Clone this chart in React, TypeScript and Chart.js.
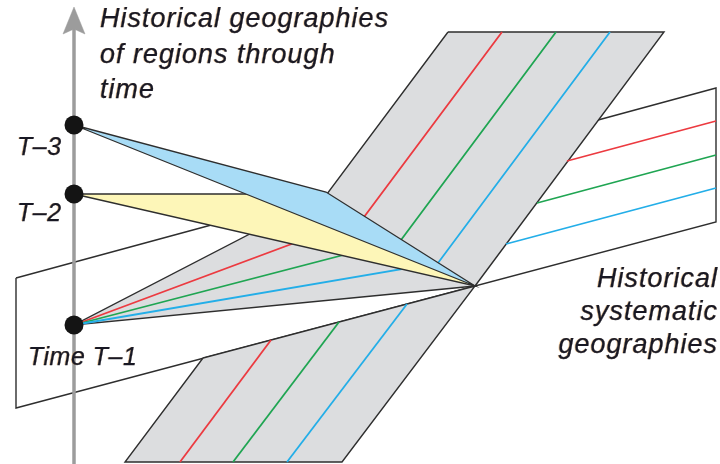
import React, { useEffect, useRef } from 'react';
import { Chart, registerables } from 'chart.js';

Chart.register(...registerables);

type P = [number, number];

// ---- Values (x to the right, y downward) ----
const planeOutline: P[] = [[16, 278], [716, 88], [716, 222], [16, 408]];
const bandUpper: P[] = [[448, 32], [664, 32], [475, 286], [74, 325], [327, 194]];
const bandLower: P[] = [[203, 358], [475, 286], [342, 462], [125, 462]];
const regionT3: P[] = [[74, 125], [326, 192], [475, 286]];
const regionT2: P[] = [[74, 194], [300, 194], [475, 286]];

const redUpper: P[] = [[502, 32], [364, 217], [74, 325]];
const greenUpper: P[] = [[556, 32], [401, 240], [74, 325]];
const blueUpper: P[] = [[610, 32], [438, 263], [74, 325]];
const redLower: P[] = [[180, 462], [271, 340]];
const greenLower: P[] = [[233, 462], [339, 322]];
const blueLower: P[] = [[287, 462], [407, 304]];
const redRight: P[] = [[567, 161], [716, 121]];
const greenRight: P[] = [[537, 203], [716, 155]];
const blueRight: P[] = [[506, 244], [716, 188]];

const timeAxis: P[] = [[74, 464], [74, 28]];
const arrowHead: P[] = [[63, 34], [74, 7], [85, 34], [74, 29]];
const timePoints: P[] = [[74, 125], [74, 194], [74, 325]];

const timeLabels = ['T–3', 'T–2', 'Time T–1'];
const titleLines = ['Historical geographies', 'of regions through', 'time'];
const sideLines = ['Historical', 'systematic', 'geographies'];

// ---- Styles ----
const OUTLINE = '#2e2e2e';
const BAND = '#dcdddf';
const RED = '#ec3a40';
const GREEN = '#1fa552';
const BLUE = '#23aee8';
const AXIS = '#9c9c9c';
const TEXT = '#181824';

const xy = (pts: P[], close = false) => {
  const arr = pts.map(([x, y]) => ({ x, y }));
  if (close) arr.push({ x: pts[0][0], y: pts[0][1] });
  return arr;
};

const polygon = (pts: P[], fill: string, border: string, width: number) => ({
  data: xy(pts, true),
  showLine: true,
  fill: 'shape',
  backgroundColor: fill,
  borderColor: border,
  borderWidth: width,
  borderJoinStyle: 'miter',
  pointRadius: 0,
  tension: 0,
});

const polyline = (pts: P[], color: string, width: number) => ({
  data: xy(pts),
  showLine: true,
  fill: false,
  borderColor: color,
  borderWidth: width,
  borderJoinStyle: 'miter',
  pointRadius: 0,
  tension: 0,
});

const labelPlugin = {
  id: 'diagramLabels',
  afterDatasetsDraw(chart: any) {
    const { ctx, scales } = chart;
    const X = (v: number) => scales.x.getPixelForValue(v);
    const Y = (v: number) => scales.y.getPixelForValue(v);
    const put = (t: string, x: number, y: number) => {
      ctx.save();
      ctx.shadowColor = 'rgba(235,150,45,0.4)';
      ctx.shadowOffsetX = -1;
      ctx.shadowOffsetY = 0;
      ctx.shadowBlur = 0;
      ctx.fillText(t, x, y);
      ctx.restore();
      ctx.strokeText(t, x, y);
    };
    ctx.save();
    ctx.fillStyle = TEXT;
    ctx.strokeStyle = TEXT;
    ctx.lineWidth = 0.25;
    ctx.textBaseline = 'alphabetic';
    ctx.font = 'italic 27px "Liberation Sans", Arial, sans-serif';
    (ctx as any).letterSpacing = '1px';
    ctx.textAlign = 'left';
    titleLines.forEach((t, i) => put(t, X(100), Y(27 + i * 35.5)));
    ctx.textAlign = 'right';
    sideLines.forEach((t, i) => put(t, X(718), Y(287 + i * 33)));
    ctx.font = 'italic 25px "Liberation Sans", Arial, sans-serif';
    (ctx as any).letterSpacing = '0.5px';
    ctx.textAlign = 'left';
    put(timeLabels[0], X(17), Y(155));
    put(timeLabels[1], X(17), Y(221));
    put(timeLabels[2], X(28), Y(365));
    ctx.restore();
  },
};

export default function App() {
  const ref = useRef<HTMLCanvasElement | null>(null);

  useEffect(() => {
    document.body.style.margin = '0';
    const canvas = ref.current;
    if (!canvas) return;

    const layers: any[] = [
      polygon(planeOutline, '#ffffff', OUTLINE, 1.4),
      polyline(timeAxis, AXIS, 3.5),
      polygon(arrowHead, AXIS, AXIS, 0.5),
      polygon(bandLower, BAND, OUTLINE, 1.4),
      polygon(bandUpper, BAND, OUTLINE, 1.4),
      polyline(redUpper, RED, 1.8),
      polyline(greenUpper, GREEN, 1.8),
      polyline(blueUpper, BLUE, 1.8),
      polyline(redLower, RED, 1.8),
      polyline(greenLower, GREEN, 1.8),
      polyline(blueLower, BLUE, 1.8),
      polyline(redRight, RED, 1.8),
      polyline(greenRight, GREEN, 1.8),
      polyline(blueRight, BLUE, 1.8),
      polygon(regionT2, '#fdf6b8', OUTLINE, 1.3),
      polygon(regionT3, '#a8dcf6', OUTLINE, 1.3),
      {
        data: xy(timePoints),
        showLine: false,
        pointRadius: 9.5,
        pointHoverRadius: 9.5,
        pointBackgroundColor: '#141414',
        pointBorderColor: '#141414',
        pointBorderWidth: 0,
      },
    ];
    // first layer is drawn at the bottom, last on top
    const datasets = layers.map((d, i) => ({ ...d, order: -i, clip: false }));

    const chart = new Chart(canvas, {
      type: 'scatter',
      data: { datasets },
      options: {
        animation: false,
        responsive: false,
        devicePixelRatio: 1,
        events: [],
        layout: { padding: 0, autoPadding: false },
        plugins: {
          legend: { display: false },
          tooltip: { enabled: false },
        },
        scales: {
          x: { type: 'linear', min: 0, max: 720, display: false },
          y: { type: 'linear', min: 0, max: 464, reverse: true, display: false },
        },
      },
      plugins: [labelPlugin],
    } as any);

    return () => chart.destroy();
  }, []);

  return (
    <div style={{ width: 720, height: 464, background: '#ffffff' }}>
      <canvas ref={ref} width={720} height={464} style={{ display: 'block' }} />
    </div>
  );
}
